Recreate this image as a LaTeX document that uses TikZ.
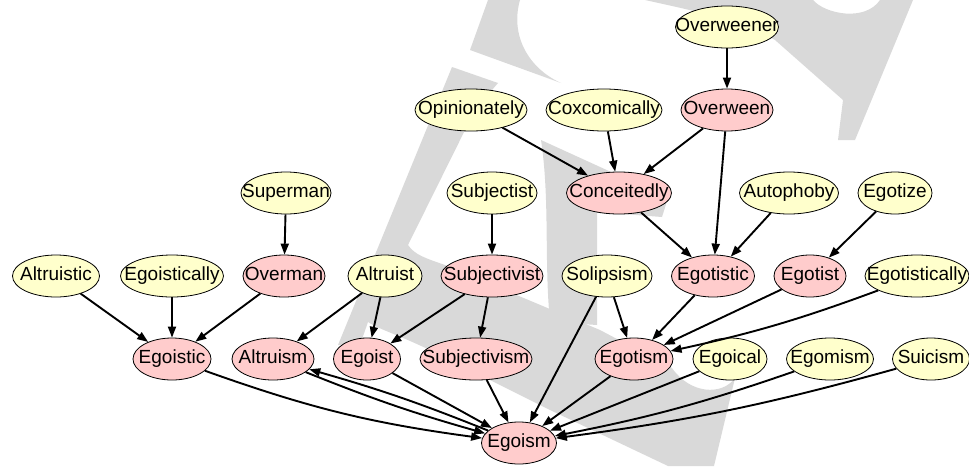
\documentclass[tikz,border=0pt]{standalone}
\usepackage{fontspec}
\setmainfont{Liberation Sans}
\usetikzlibrary{shapes.geometric,arrows.meta}
\definecolor{leafyellow}{HTML}{FFFFCC}
\definecolor{corepink}{HTML}{FFCCCC}
\definecolor{markgray}{HTML}{D9D9D9}
% zero-width label with a fixed strut, so the ellipse size is set by the style alone
\newcommand\wordlabel[1]{\makebox[0pt]{\vphantom{Eg}#1}}
\begin{document}
\begin{tikzpicture}[x=1pt,y=1pt,
  term/.style={ellipse,draw=black,line width=0.8pt,inner sep=0pt,
    minimum height=42pt,font=\fontsize{19}{19}\selectfont},
  leaf/.style={term,fill=leafyellow},
  core/.style={term,fill=corepink},
  arr/.style={-{Triangle[length=11pt,width=8pt]},line width=1.9pt,black},
  monogram/.style={fill=markgray,draw=none}
]
\useasboundingbox (0,0) rectangle (969,-466);

% background monogram
\path[monogram] (645,0) -- (813,0) .. controls (825,-14) and (865,-22) .. (880,0)
  -- (913,0) -- (855,-140) -- (838,-140) -- (843,-100) -- (775,-40)
  .. controls (740,-20) and (690,-10) .. (645,0) -- cycle;
\path[monogram] (488,0) -- (520,0) .. controls (510,-35) and (528,-68) .. (561,-83)
  -- (470,-50) -- cycle;
\path[monogram] (452,-67) -- (498,-83) -- (475,-110) -- (408,-245)
  .. controls (415,-255) and (425,-258) .. (445,-265)
  -- (600,-330) -- (672,-368)
  .. controls (690,-394) and (722,-396) .. (735,-378)
  -- (714,-466) -- (668,-466) -- (550,-410) -- (440,-355)
  .. controls (400,-335) and (380,-330) .. (368,-322)
  -- (360,-345) -- (338,-345) -- cycle;
\path[monogram] (541,-140) -- (668,-198) -- (662,-217) -- (597,-212)
  -- (597,-325) -- (550,-322)
  .. controls (544,-260) and (550,-200) .. (541,-140) -- cycle;

% nodes, top row to bottom row
\node[leaf,minimum width=103pt] (Overweener)   at (727,-27)  {\wordlabel{Overweener}};
\node[leaf,minimum width=112pt] (Opinionately) at (471,-110) {\wordlabel{Opinionately}};
\node[leaf,minimum width=116pt] (Coxcomically) at (604,-110) {\wordlabel{Coxcomically}};
\node[core,minimum width=92pt]  (Overween)     at (727,-110) {\wordlabel{Overween}};
\node[leaf,minimum width=90pt]  (Superman)     at (286,-193) {\wordlabel{Superman}};
\node[leaf,minimum width=90pt]  (Subjectist)   at (492,-193) {\wordlabel{Subjectist}};
\node[core,minimum width=105pt] (Conceitedly)  at (619,-193) {\wordlabel{Conceitedly}};
\node[leaf,minimum width=99pt]  (Autophoby)    at (789,-193) {\wordlabel{Autophoby}};
\node[leaf,minimum width=74pt]  (Egotize)      at (895,-193) {\wordlabel{Egotize}};
\node[leaf,minimum width=87pt]  (Altruistic)   at (56,-276)  {\wordlabel{Altruistic}};
\node[leaf,minimum width=103pt] (Egoistically) at (172,-276) {\wordlabel{Egoistically}};
\node[core,minimum width=82pt]  (Overman)      at (284,-276) {\wordlabel{Overman}};
\node[leaf,minimum width=74pt]  (Altruist)     at (385,-276) {\wordlabel{Altruist}};
\node[core,minimum width=102pt] (Subjectivist) at (492,-276) {\wordlabel{Subjectivist}};
\node[leaf,minimum width=90pt]  (Solipsism)    at (607,-276) {\wordlabel{Solipsism}};
\node[core,minimum width=83pt]  (Egotistic)    at (713,-276) {\wordlabel{Egotistic}};
\node[core,minimum width=72pt]  (Egotist)      at (810,-276) {\wordlabel{Egotist}};
\node[leaf,minimum width=104pt] (Egotistically) at (917,-276) {\wordlabel{Egotistically}};
\node[core,minimum width=78pt]  (Egoistic)     at (172,-359) {\wordlabel{Egoistic}};
\node[core,minimum width=82pt]  (Altruism)     at (273,-359) {\wordlabel{Altruism}};
\node[core,minimum width=67pt]  (Egoist)       at (367,-359) {\wordlabel{Egoist}};
\node[core,minimum width=112pt] (Subjectivism) at (476,-359) {\wordlabel{Subjectivism}};
\node[core,minimum width=78pt]  (Egotism)      at (634,-359) {\wordlabel{Egotism}};
\node[leaf,minimum width=74pt]  (Egoical)      at (730,-359) {\wordlabel{Egoical}};
\node[leaf,minimum width=87pt]  (Egomism)      at (830,-359) {\wordlabel{Egomism}};
\node[leaf,minimum width=77pt]  (Suicism)      at (931,-359) {\wordlabel{Suicism}};
\node[core,minimum width=75pt]  (Egoism)       at (519,-443) {\wordlabel{Egoism}};

% connectors
\draw[arr] (Overweener) -- (Overween);
\draw[arr] (Opinionately) -- (Conceitedly);
\draw[arr] (Coxcomically) -- (Conceitedly);
\draw[arr] (Overween) -- (Conceitedly);
\draw[arr] (Overween) -- (Egotistic);
\draw[arr] (Conceitedly) -- (Egotistic);
\draw[arr] (Autophoby) -- (Egotistic);
\draw[arr] (Egotize) -- (Egotist);
\draw[arr] (Superman) -- (Overman);
\draw[arr] (Subjectist) -- (Subjectivist);
\draw[arr] (Altruistic) -- (Egoistic);
\draw[arr] (Egoistically) -- (Egoistic);
\draw[arr] (Overman) -- (Egoistic);
\draw[arr] (Altruist) -- (Altruism);
\draw[arr] (Altruist) -- (Egoist);
\draw[arr] (Subjectivist) -- (Egoist);
\draw[arr] (Subjectivist) -- (Subjectivism);
\draw[arr] (Solipsism) -- (Egotism);
\draw[arr] (Solipsism) -- (Egoism);
\draw[arr] (Egotistic) -- (Egotism);
\draw[arr] (Egotist) -- (Egotism);
\draw[arr] (Egotistically) to[bend left=4] (Egotism);
\draw[arr] (Egoistic) to[bend right=6] (Egoism);
\draw[arr] (Altruism) to[bend right=3] (Egoism);
\draw[arr] (Egoism) to[bend right=3] (Altruism);
\draw[arr] (Egoist) -- (Egoism);
\draw[arr] (Subjectivism) -- (Egoism);
\draw[arr] (Egotism) -- (Egoism);
\draw[arr] (Egoical) -- (Egoism);
\draw[arr] (Egomism) to[bend left=4] (Egoism);
\draw[arr] (Suicism) to[bend left=4] (Egoism);
\end{tikzpicture}
\end{document}
